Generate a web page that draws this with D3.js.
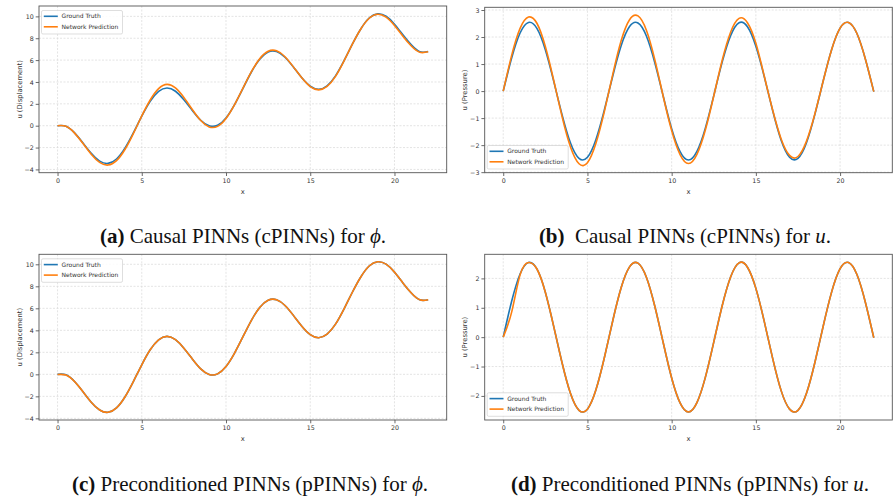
<!DOCTYPE html>
<html>
<head>
<meta charset="utf-8">
<script src="https://cdn.jsdelivr.net/npm/d3@7"></script>
<style>
  body { margin: 0; background: #fff; }
  svg { display: block; }
</style>
</head>
<body>
<svg id="fig" width="893" height="500"></svg>
<script>
// sample positions along x (shared by every panel)
const xs = [0, 0.5, 1, 1.5, 2, 2.5, 3, 3.5, 4, 4.5, 5, 5.5, 6, 6.5, 7, 7.5, 8, 8.5, 9, 9.5, 10,
  10.5, 11, 11.5, 12, 12.5, 13, 13.5, 14, 14.5, 15, 15.5, 16, 16.5, 17, 17.5, 18, 18.5, 19, 19.5,
  20, 20.5, 21, 21.5, 22]

// displacement phi
const phiTrue = [0, -0.04, -0.63, -1.56, -2.53, -3.24, -3.45, -3.05, -2.06, -0.66, 0.87, 2.23,
  3.14, 3.45, 3.15, 2.38, 1.40, 0.50, -0.01, 0.04, 0.71, 1.91, 3.40, 4.89, 6.08, 6.74, 6.78,
  6.26, 5.36, 4.38, 3.61, 3.33, 3.65, 4.56, 5.93, 7.46, 8.85, 9.85, 10.23, 10.01, 9.29, 8.31,
  7.39, 6.77, 6.78]
const phiCausal = [0, -0.06, -0.66, -1.61, -2.61, -3.36, -3.60, -3.20, -2.18, -0.72, 0.89, 2.35,
  3.39, 3.78, 3.45, 2.58, 1.48, 0.47, -0.11, -0.06, 0.66, 1.91, 3.42, 4.92, 6.13, 6.81, 6.85,
  6.31, 5.38, 4.38, 3.58, 3.28, 3.59, 4.51, 5.91, 7.46, 8.85, 9.83, 10.19, 9.93, 9.17, 8.19,
  7.29, 6.72, 6.76]
const phiPrecond = [-0.01, -0.07, -0.64, -1.56, -2.53, -3.24, -3.45, -3.05, -2.06, -0.66, 0.87, 2.23,
  3.14, 3.45, 3.15, 2.38, 1.40, 0.50, -0.01, 0.04, 0.71, 1.91, 3.40, 4.89, 6.08, 6.74, 6.78,
  6.26, 5.36, 4.38, 3.61, 3.33, 3.65, 4.56, 5.93, 7.46, 8.85, 9.85, 10.23, 10.01, 9.29, 8.31,
  7.39, 6.77, 6.78]

// pressure u
const uTrue = [0, 1.22, 2.15, 2.54, 2.32, 1.53, 0.36, -0.89, -1.93, -2.49, -2.45, -1.80, -0.71,
  0.55, 1.68, 2.39, 2.52, 2.04, 1.05, -0.19, -1.39, -2.24, -2.55, -2.23, -1.37, -0.17, 1.07,
  2.05, 2.53, 2.38, 1.66, 0.53, -0.73, -1.82, -2.45, -2.49, -1.92, -0.87, 0.38, 1.54, 2.33,
  2.54, 2.13, 1.19, -0.02]
const uCausal = [0, 1.32, 2.32, 2.74, 2.51, 1.65, 0.39, -0.96, -2.08, -2.69, -2.65, -1.94, -0.77,
  0.61, 1.86, 2.64, 2.78, 2.25, 1.16, -0.20, -1.46, -2.35, -2.68, -2.34, -1.44, -0.18, 1.14,
  2.18, 2.69, 2.53, 1.77, 0.55, -0.71, -1.77, -2.38, -2.42, -1.86, -0.85, 0.38, 1.54, 2.33,
  2.54, 2.13, 1.19, -0.02]
const uPrecond = [0, 0.85, 2.12, 2.54, 2.32, 1.53, 0.36, -0.89, -1.93, -2.49, -2.45, -1.80, -0.71,
  0.55, 1.68, 2.39, 2.52, 2.04, 1.05, -0.19, -1.39, -2.24, -2.55, -2.23, -1.37, -0.17, 1.07,
  2.05, 2.53, 2.38, 1.66, 0.53, -0.73, -1.82, -2.45, -2.49, -1.92, -0.87, 0.38, 1.54, 2.33,
  2.54, 2.13, 1.19, -0.02]

const xTicks = [0, 5, 10, 15, 20]
const phiTicks = [-4, -2, 0, 2, 4, 6, 8, 10]
const uTicksCausal = [-3, -2, -1, 0, 1, 2, 3]
const uTicksPrecond = [-2, -1, 0, 1, 2]
const legendLabels = ['Ground Truth', 'Network Prediction']
const colors = ['#1f77b4', '#ff7f0e']

const svg = d3.select('#fig')

/**
 * Draws one matplotlib-like panel.
 */
function drawPanel (p) {
  const x = d3.scaleLinear().domain([-1.1, 23.1]).range([p.x0, p.x1])
  const y = d3.scaleLinear().domain(p.yDomain).range([p.y1, p.y0])
  const g = svg.append('g')

  // grid
  g.selectAll('.gx').data(xTicks).join('line')
    .attr('x1', d => x(d)).attr('x2', d => x(d))
    .attr('y1', p.y0).attr('y2', p.y1)
    .attr('stroke', '#d8d8d8').attr('stroke-width', 0.7)
    .attr('stroke-dasharray', '2,1.5')
  g.selectAll('.gy').data(p.yTicks).join('line')
    .attr('x1', p.x0).attr('x2', p.x1)
    .attr('y1', d => y(d)).attr('y2', d => y(d))
    .attr('stroke', '#d8d8d8').attr('stroke-width', 0.7)
    .attr('stroke-dasharray', '2,1.5')

  // axes
  const xAxis = g.append('g')
    .attr('transform', 'translate(0,' + p.y1 + ')')
    .call(d3.axisBottom(x).tickValues(xTicks).tickSize(3.3).tickPadding(2.5)
      .tickFormat(d3.format('d')))
  const yAxis = g.append('g')
    .attr('transform', 'translate(' + p.x0 + ',0)')
    .call(d3.axisLeft(y).tickValues(p.yTicks).tickSize(3.3).tickPadding(2)
      .tickFormat(d => d < 0 ? '\u2212' + Math.abs(d) : d))
  for (const a of [xAxis, yAxis]) {
    a.select('.domain').remove()
    a.selectAll('line').attr('stroke', '#444').attr('stroke-width', 0.8)
    a.selectAll('text')
      .attr('fill', '#333')
      .attr('font-family', 'DejaVu Sans')
      .attr('font-size', 6.3)
  }

  // curves
  const line = d3.line()
    .x((d, i) => x(xs[i]))
    .y(d => y(d))
    .curve(d3.curveNatural)
  g.append('path').datum(p.truth)
    .attr('d', line).attr('fill', 'none')
    .attr('stroke', colors[0]).attr('stroke-width', 1.6)
  g.append('path').datum(p.pred)
    .attr('d', line).attr('fill', 'none')
    .attr('stroke', colors[1]).attr('stroke-width', 1.6)

  // frame
  g.append('rect')
    .attr('x', p.x0).attr('y', p.y0)
    .attr('width', p.x1 - p.x0).attr('height', p.y1 - p.y0)
    .attr('fill', 'none').attr('stroke', '#555').attr('stroke-width', 0.9)

  // axis labels
  g.append('text')
    .text('x')
    .attr('x', (p.x0 + p.x1) / 2).attr('y', p.y1 + 21)
    .attr('text-anchor', 'middle')
    .attr('fill', '#333').attr('font-family', 'DejaVu Sans').attr('font-size', 6.8)
  g.append('text')
    .text(p.yLabel)
    .attr('transform', 'translate(' + (p.x0 - 19.7) + ',' + (p.y0 + p.y1) / 2 + ') rotate(-90)')
    .attr('text-anchor', 'middle').attr('dy', '0.35em')
    .attr('fill', '#333').attr('font-family', 'DejaVu Sans').attr('font-size', 6.8)

  // legend
  const lw = 81
  const lh = 23.5
  const lx = p.x0 + 2.5
  const ly = p.legendTop ? p.y0 + 4.5 : p.y1 - 3.7 - lh
  const lg = g.append('g').attr('transform', 'translate(' + lx + ',' + ly + ')')
  lg.append('rect')
    .attr('width', lw).attr('height', lh).attr('rx', 1.5)
    .attr('fill', '#fff').attr('fill-opacity', 0.85)
    .attr('stroke', '#d0d0d0').attr('stroke-width', 0.7)
  legendLabels.forEach((t, i) => {
    const cy = 5.8 + i * 10.5
    lg.append('line')
      .attr('x1', 2.3).attr('x2', 16.3).attr('y1', cy).attr('y2', cy)
      .attr('stroke', colors[i]).attr('stroke-width', 1.6)
    lg.append('text')
      .text(t)
      .attr('x', 20).attr('y', cy).attr('dy', '0.35em')
      .attr('fill', '#333').attr('font-family', 'DejaVu Sans').attr('font-size', 6)
  })
}

drawPanel({ x0: 39, x1: 446.7, y0: 6, y1: 172.7, yDomain: [-4.3, 10.95], yTicks: phiTicks,
  yLabel: 'u (Displacement)', truth: phiTrue, pred: phiCausal, legendTop: true })
drawPanel({ x0: 484.7, x1: 892.3, y0: 7.3, y1: 172.7, yDomain: [-3.02, 3.10], yTicks: uTicksCausal,
  yLabel: 'u (Pressure)', truth: uTrue, pred: uCausal, legendTop: false })
drawPanel({ x0: 39, x1: 446.7, y0: 254.3, y1: 420, yDomain: [-4.15, 10.91], yTicks: phiTicks,
  yLabel: 'u (Displacement)', truth: phiTrue, pred: phiPrecond, legendTop: true })
drawPanel({ x0: 484.7, x1: 892.3, y0: 254.3, y1: 420, yDomain: [-2.82, 2.82], yTicks: uTicksPrecond,
  yLabel: 'u (Pressure)', truth: uTrue, pred: uPrecond, legendTop: false })

// sub-captions
const captions = [
  { tag: '(a)', text: ' Causal PINNs (cPINNs) for ', sym: '\u03D5', cx: 243, y: 242.5 },
  { tag: '(b)', text: '\u00A0 Causal PINNs (cPINNs) for ', sym: 'u', cx: 685, y: 242.5 },
  { tag: '(c)', text: ' Preconditioned PINNs (pPINNs) for ', sym: '\u03D5', cx: 250, y: 491 },
  { tag: '(d)', text: ' Preconditioned PINNs (pPINNs) for ', sym: 'u', cx: 690, y: 491 }
]
captions.forEach(c => {
  const t = svg.append('text')
    .attr('x', c.cx).attr('y', c.y)
    .attr('text-anchor', 'middle')
    .attr('font-family', 'Liberation Serif')
    .attr('font-size', 21)
    .attr('fill', '#111')
  t.append('tspan').attr('font-weight', 'bold').text(c.tag)
  t.append('tspan').text(c.text)
  t.append('tspan').attr('font-style', 'italic').text(c.sym)
  t.append('tspan').text('.')
})
</script>
</body>
</html>
